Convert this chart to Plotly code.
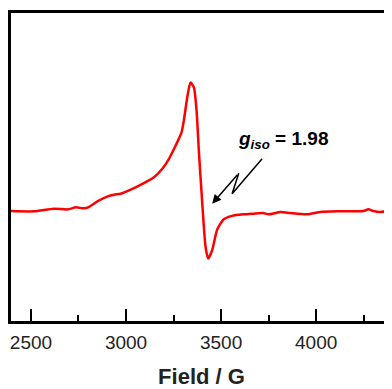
import plotly.graph_objects as go

# EPR spectrum (field in G, intensity in arbitrary units, baseline 0)
field = [2395, 2516, 2621, 2694, 2736, 2778, 2804, 2852, 2904, 2937, 2972, 3042,
         3094, 3147, 3191, 3226, 3261, 3292, 3304, 3322, 3339, 3357, 3371, 3383,
         3400, 3418, 3432, 3453, 3480, 3514, 3558, 3618, 3670, 3722, 3749, 3812,
         3864, 3952, 4022, 4109, 4179, 4249, 4275, 4301, 4336, 4398]
intensity = [0.3, 0, 2.7, 2, 4, 3, 4.3, 10.3, 15, 16.7, 17.7, 23.3,
             28.3, 34.3, 42.7, 52.7, 66, 79.3, 91, 114.3, 129.3, 124.3, 101, 61,
             11, -35, -47.3, -39, -18, -8, -4.5, -3, -2.3, -1.7, -3, -0.7,
             -1.7, -3, -0.7, 0, 0, 0.3, 2, 0.3, -0.7, 1]

x_range = [2395, 4399]
y_range = [-110, 199]
tick_vals = [2500, 3000, 3500, 4000]
tick_text = ["2500", "3000", "3500", "4000"]

fig = go.Figure()
fig.add_trace(go.Scatter(x=field, y=intensity, mode="lines",
                         line=dict(color="#ff0000", width=2.5, shape="spline", smoothing=0.6),
                         hoverinfo="skip", showlegend=False))

# zig-zag arrow pointing to g_iso
fig.add_shape(type="path", xref="x", yref="y",
              path="M 3716 52.7 L 3558 17.7 L 3593 38.3",
              line=dict(color="black", width=1.5))
fig.add_annotation(x=3453, y=7.7, ax=3593, ay=38.3, xref="x", yref="y",
                   axref="x", ayref="y", text="", showarrow=True,
                   arrowhead=2, arrowsize=1.2, arrowwidth=1.5, arrowcolor="black")
fig.add_annotation(x=3580, y=72, xref="x", yref="y", xanchor="left", yanchor="middle",
                   text="<b><i>g</i><sub><i>iso</i></sub> = 1.98</b>", showarrow=False,
                   font=dict(family="Liberation Sans, Arial", size=19, color="black"))

fig.update_layout(
    width=384, height=381,
    margin=dict(l=3, r=0, t=5, b=68),
    paper_bgcolor="white", plot_bgcolor="white",
    font=dict(family="Liberation Sans, Arial", color="black"),
    xaxis=dict(range=x_range, tickvals=tick_vals, ticktext=tick_text,
               showline=True, linecolor="black", linewidth=2.5, mirror=True,
               ticks="inside", ticklen=12, tickwidth=2, tickcolor="black",
               minor=dict(ticks="inside", ticklen=6, tickwidth=2, tickcolor="black", dtick=250),
               showgrid=False, zeroline=False, ticklabelstandoff=2,
               tickfont=dict(size=19, color="#222"),
               title=dict(text="<b>Field / G</b>", font=dict(size=22, color="#222"), standoff=20)),
    yaxis=dict(range=y_range, showline=True, linecolor="black", linewidth=2.5,
               showticklabels=False, ticks="", showgrid=False, zeroline=False),
)

fig.write_html("out.html")
